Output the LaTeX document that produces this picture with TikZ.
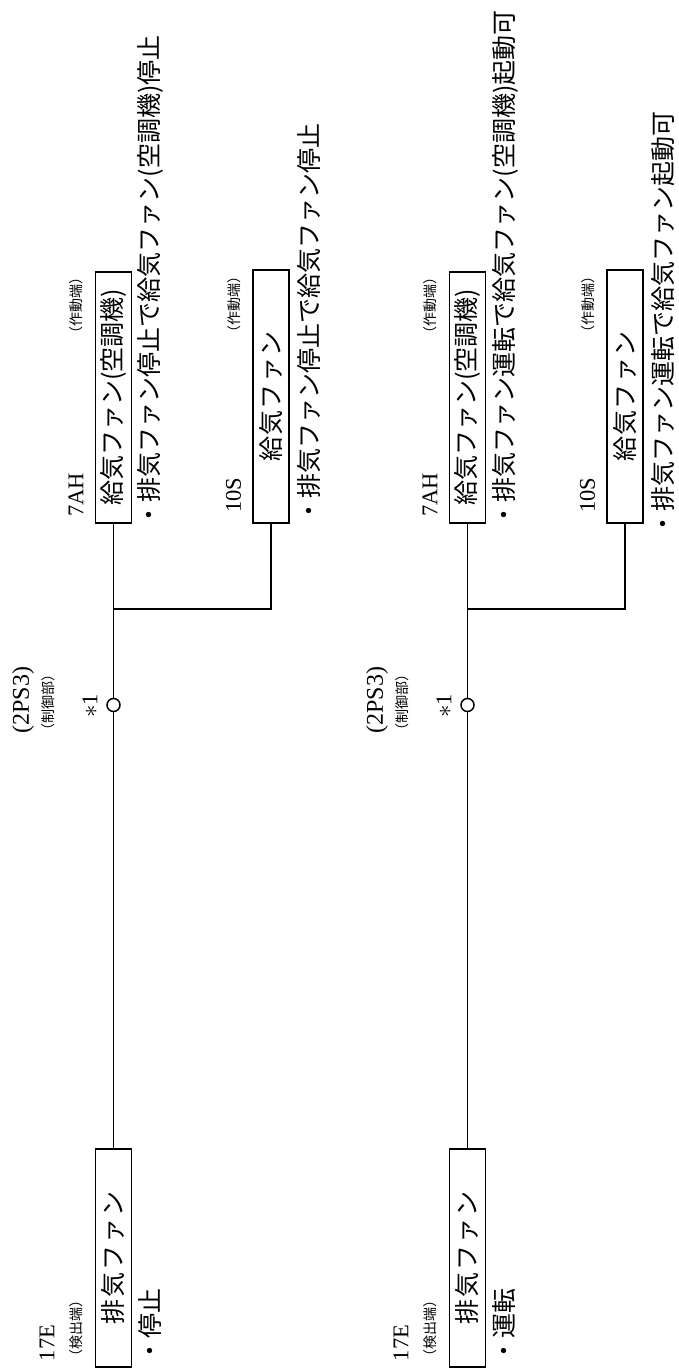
\documentclass[tikz,border=0pt]{standalone}
\usepackage{fontspec}
\setmainfont{Liberation Serif}
\newfontfamily\jp{Noto Sans CJK JP}
\begin{document}
\begin{tikzpicture}[x=1pt, y=-1pt, line width=1.5pt,
  every node/.style={rotate=90, inner sep=0pt},
  unit/.style={draw, fill=white, minimum height=36pt, font=\jp\fontsize{25}{26}\selectfont},
  tag/.style={font=\fontsize{22.5}{24}\selectfont},
  note/.style={font=\jp\fontsize{14}{15}\selectfont},
  state/.style={font=\jp\fontsize{25}{26}\selectfont},
  remark/.style={font=\jp\fontsize{25}{26}\selectfont, anchor=west},
  port/.style={circle, draw, fill=white, minimum size=13pt}]
\path[use as bounding box, clip] (0,0) rectangle (678,1370);
\node[unit, minimum width=218pt] (e17) at (113.5,1258) {\makebox[133pt][s]{排\hfill 気\hfill フ\hfill ァ\hfill ン}};
\node[tag] (t17) at (47,1343) {17E};
\node[note] (d17) at (76,1328) {（検出端）};
\node[state] (s17) at (150,1326) {・停止};
\node[unit, minimum width=251pt] (a7) at (113.5,397.5) {給気ファン(空調機)};
\node[tag] (t7) at (76,495) {7AH};
\node[note] (d7) at (76,305) {（作動端）};
\node[remark] (r7) at (150,528) {・排気ファン停止で給気ファン(空調機)停止};
\node[unit, minimum width=253pt] (s10) at (271,396.5) {\makebox[130pt][s]{給\hfill 気\hfill フ\hfill ァ\hfill ン}};
\node[tag] (t10) at (233.5,495) {10S};
\node[note] (d10) at (234,304) {（作動端）};
\node[remark] (r10) at (309,524) {・排気ファン停止で給気ファン停止};
\node[port] (p1) at (113.5,705) {};
\node[tag, font=\fontsize{24}{26}\selectfont] (ps1) at (23,700) {(2PS3)};
\node[note] (cp1) at (48,702) {（制御部）};
\node[tag] (k1) at (90,706) {\fontsize{30}{30}\selectfont$\ast$\fontsize{22.5}{24}\selectfont 1};
\coordinate (j1) at (113.5,609);
\draw (e17) -- (p1) -- (a7);
\draw (j1) -- (j1 -| s10) -- (s10);
\node[unit, minimum width=218pt] (e17b) at (467.5,1258) {\makebox[133pt][s]{排\hfill 気\hfill フ\hfill ァ\hfill ン}};
\node[tag] (t17b) at (401,1343) {17E};
\node[note] (d17b) at (430,1328) {（検出端）};
\node[state] (s17b) at (504,1326) {・運転};
\node[unit, minimum width=251pt] (a7b) at (467.5,397.5) {給気ファン(空調機)};
\node[tag] (t7b) at (430,495) {7AH};
\node[note] (d7b) at (430,305) {（作動端）};
\node[remark] (r7b) at (505,528) {・排気ファン運転で給気ファン(空調機)起動可};
\node[unit, minimum width=253pt] (s10b) at (625,396.5) {\makebox[130pt][s]{給\hfill 気\hfill フ\hfill ァ\hfill ン}};
\node[tag] (t10b) at (587.5,495) {10S};
\node[note] (d10b) at (588,304) {（作動端）};
\node[remark] (r10b) at (663,537) {・排気ファン運転で給気ファン起動可};
\node[port] (p2) at (467.5,705) {};
\node[tag, font=\fontsize{24}{26}\selectfont] (ps2) at (377,700) {(2PS3)};
\node[note] (cp2) at (402,702) {（制御部）};
\node[tag] (k2) at (444,706) {\fontsize{30}{30}\selectfont$\ast$\fontsize{22.5}{24}\selectfont 1};
\coordinate (j2) at (467.5,609);
\draw (e17b) -- (p2) -- (a7b);
\draw (j2) -- (j2 -| s10b) -- (s10b);
\end{tikzpicture}
\end{document}
